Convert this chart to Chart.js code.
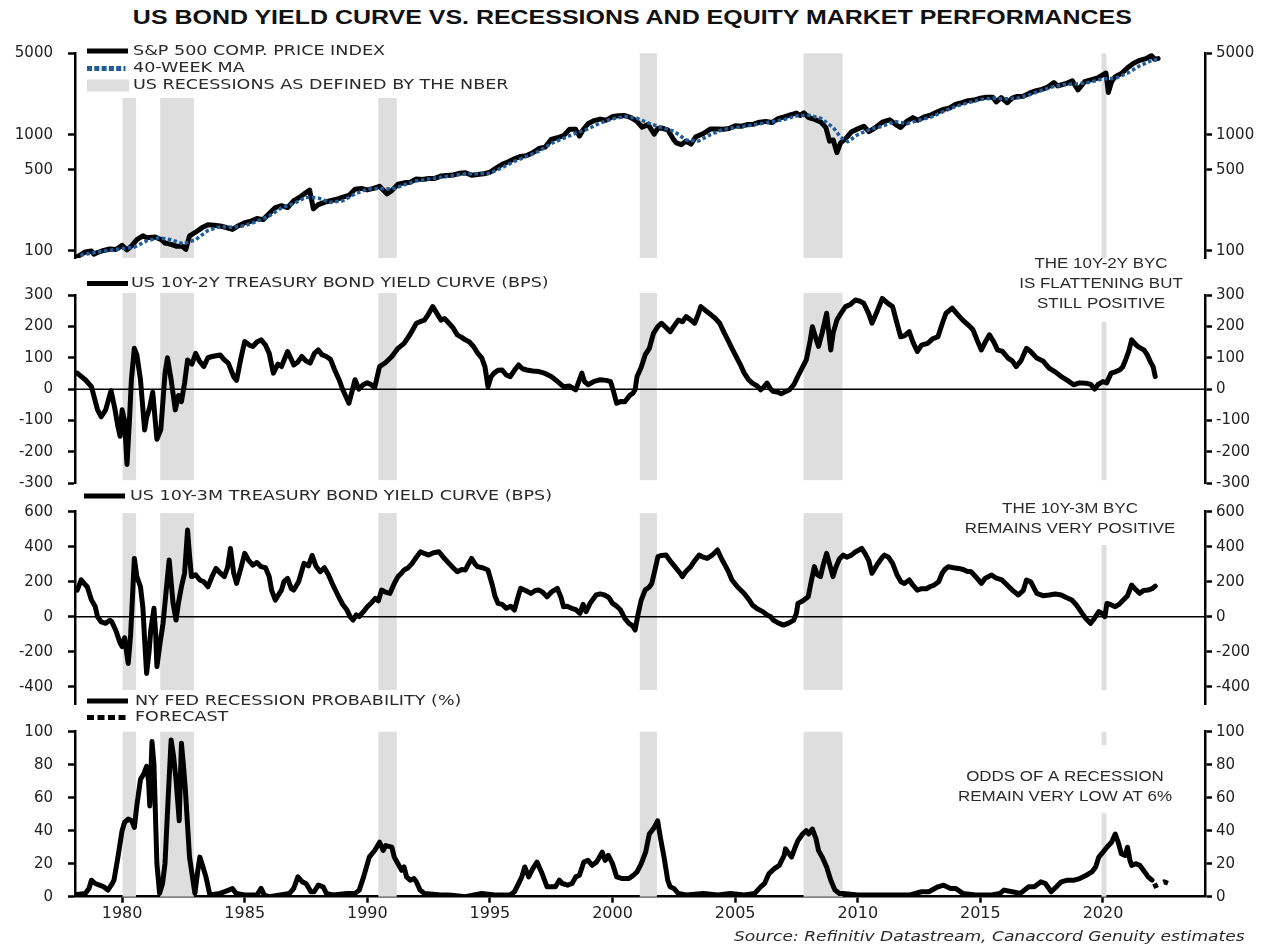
<!DOCTYPE html>
<html>
<head>
<meta charset="utf-8">
<script src="https://cdn.jsdelivr.net/npm/chart.js@4.4.0/dist/chart.umd.min.js"></script>
<style>
  body { margin: 0; background: #fff; }
  #wrap { position: relative; width: 1265px; height: 947px; background: #fff; overflow: hidden; }
  canvas { position: absolute; left: 0; top: 0; }
  #title { position: absolute; top: 6px; left: 0; width: 1265px; text-align: center;
    font: bold 19.5px "Liberation Sans", Arial, sans-serif; color: #111;
    transform: scaleX(1.28); transform-origin: 633px 0; }
  #source { position: absolute; right: 20px; top: 928px;
    font: italic 14px "DejaVu Sans", Verdana, sans-serif; color: #2a2a2a;
    transform: scaleX(1.22); transform-origin: right center; }
</style>
</head>
<body>
<div id="wrap">
  <div id="title">US BOND YIELD CURVE VS. RECESSIONS AND EQUITY MARKET PERFORMANCES</div>
  <canvas id="c1" width="1265" height="947"></canvas>
  <canvas id="c2" width="1265" height="947"></canvas>
  <canvas id="c3" width="1265" height="947"></canvas>
  <canvas id="c4" width="1265" height="947"></canvas>
  <div id="source">Source: Refinitiv Datastream, Canaccord Genuity estimates</div>
</div>
<script>
// recessions (NBER), start / end in decimal years as drawn
const recessionStarts = [1980.02, 1981.55, 1990.45, 2001.11, 2007.79, 2019.94];
const recessionEnds = [1980.57, 1982.93, 1991.2, 2001.81, 2009.38, 2020.14];

const xTicks = [1980, 1985, 1990, 1995, 2000, 2005, 2010, 2015, 2020];
const spxTicks = [100, 500, 1000, 5000];
const curve2yTicks = [-300, -200, -100, 0, 100, 200, 300];
const curve3mTicks = [-400, -200, 0, 200, 400, 600];
const probTicks = [0, 20, 40, 60, 80, 100];

// S&P 500 price index [year, level]
const spx = [[1978.17,89],[1978.35,94],[1978.5,98],[1978.75,100],[1978.85,94],[1979.0,97],[1979.25,101],[1979.5,104],[1979.75,103],[1979.85,106],[1980.0,112],[1980.2,102],[1980.4,111],[1980.6,125],[1980.85,135],[1981.0,130],[1981.35,132],[1981.6,125],[1981.75,117],[1982.0,114],[1982.2,110],[1982.45,110],[1982.6,103],[1982.75,135],[1983.0,145],[1983.25,158],[1983.5,168],[1983.75,166],[1984.0,164],[1984.25,159],[1984.5,153],[1984.75,165],[1985.0,175],[1985.25,180],[1985.5,190],[1985.75,186],[1986.0,210],[1986.25,236],[1986.5,245],[1986.75,236],[1987.0,270],[1987.25,290],[1987.5,318],[1987.65,333],[1987.8,230],[1988.0,250],[1988.25,262],[1988.5,270],[1988.75,278],[1989.0,290],[1989.25,300],[1989.5,340],[1989.75,345],[1990.0,335],[1990.25,345],[1990.5,360],[1990.8,310],[1991.0,330],[1991.25,375],[1991.5,385],[1991.75,390],[1992.0,415],[1992.25,412],[1992.5,420],[1992.75,420],[1993.0,440],[1993.25,445],[1993.5,450],[1993.75,465],[1994.0,470],[1994.25,448],[1994.5,455],[1994.75,460],[1995.0,475],[1995.25,515],[1995.5,555],[1995.75,585],[1996.0,620],[1996.25,650],[1996.5,660],[1996.75,700],[1997.0,760],[1997.25,780],[1997.5,910],[1997.75,940],[1998.0,980],[1998.25,1110],[1998.5,1110],[1998.65,970],[1998.8,1100],[1999.0,1240],[1999.25,1320],[1999.5,1360],[1999.75,1330],[2000.0,1430],[2000.25,1450],[2000.5,1460],[2000.75,1400],[2001.0,1300],[2001.2,1160],[2001.45,1220],[2001.7,1010],[2001.85,1130],[2002.0,1140],[2002.25,1100],[2002.5,900],[2002.6,850],[2002.8,820],[2003.0,880],[2003.2,830],[2003.4,960],[2003.7,1020],[2004.0,1120],[2004.25,1120],[2004.5,1110],[2004.75,1130],[2005.0,1190],[2005.25,1180],[2005.5,1220],[2005.75,1230],[2006.0,1280],[2006.25,1300],[2006.5,1270],[2006.75,1370],[2007.0,1420],[2007.25,1480],[2007.5,1530],[2007.65,1460],[2007.8,1540],[2008.0,1400],[2008.25,1350],[2008.5,1280],[2008.7,1150],[2008.85,880],[2009.0,900],[2009.15,700],[2009.3,850],[2009.5,920],[2009.75,1060],[2010.0,1120],[2010.25,1180],[2010.45,1060],[2010.7,1140],[2011.0,1280],[2011.3,1340],[2011.6,1200],[2011.75,1150],[2012.0,1300],[2012.25,1400],[2012.45,1330],[2012.75,1430],[2013.0,1480],[2013.25,1570],[2013.5,1650],[2013.75,1700],[2014.0,1830],[2014.25,1880],[2014.5,1960],[2014.75,1980],[2015.0,2060],[2015.25,2100],[2015.5,2100],[2015.65,1910],[2015.85,2080],[2016.1,1880],[2016.3,2060],[2016.5,2130],[2016.75,2140],[2017.0,2270],[2017.25,2380],[2017.5,2450],[2017.75,2560],[2018.0,2800],[2018.15,2620],[2018.5,2750],[2018.75,2900],[2018.98,2420],[2019.25,2850],[2019.5,2950],[2019.75,3050],[2020.0,3280],[2020.12,3380],[2020.22,2300],[2020.35,2850],[2020.5,3150],[2020.75,3350],[2021.0,3750],[2021.25,4100],[2021.5,4350],[2021.75,4500],[2021.98,4780],[2022.1,4450],[2022.25,4500]];

// 40-week moving average
const spxMA = [[1978.3,92],[1979.0,98],[1980.0,105],[1980.5,108],[1981.0,122],[1981.5,130],[1982.0,125],[1982.5,115],[1983.0,125],[1983.5,150],[1984.0,162],[1984.5,160],[1985.0,165],[1985.5,180],[1986.0,200],[1986.5,235],[1987.0,255],[1987.5,290],[1988.0,285],[1988.5,262],[1989.0,270],[1989.5,310],[1990.0,340],[1990.5,345],[1991.0,340],[1991.5,370],[1992.0,400],[1992.5,415],[1993.0,430],[1993.5,445],[1994.0,460],[1994.5,460],[1995.0,465],[1995.5,520],[1996.0,590],[1996.5,650],[1997.0,720],[1997.5,840],[1998.0,930],[1998.5,1030],[1999.0,1120],[1999.5,1260],[2000.0,1370],[2000.5,1430],[2001.0,1380],[2001.5,1250],[2002.0,1150],[2002.5,1070],[2003.0,900],[2003.5,880],[2004.0,1000],[2004.5,1110],[2005.0,1150],[2005.5,1190],[2006.0,1240],[2006.5,1290],[2007.0,1350],[2007.5,1450],[2008.0,1470],[2008.5,1380],[2009.0,1150],[2009.3,950],[2009.6,870],[2010.0,1000],[2010.5,1110],[2011.0,1180],[2011.5,1300],[2012.0,1240],[2012.5,1330],[2013.0,1420],[2013.5,1580],[2014.0,1750],[2014.5,1880],[2015.0,2000],[2015.5,2060],[2016.0,2030],[2016.5,2060],[2017.0,2200],[2017.5,2400],[2018.0,2600],[2018.5,2710],[2019.0,2730],[2019.5,2830],[2020.0,3020],[2020.5,3040],[2021.0,3380],[2021.5,3900],[2022.0,4350],[2022.25,4450]];

// US 10Y-2Y curve, bps
const curve2y = [[1978.17,51],[1978.5,30],[1978.75,8],[1979.0,-66],[1979.15,-88],[1979.33,-66],[1979.55,-5],[1979.7,-60],[1979.83,-119],[1979.92,-150],[1980.0,-66],[1980.1,-100],[1980.2,-240],[1980.3,-100],[1980.38,30],[1980.5,130],[1980.6,110],[1980.75,30],[1980.92,-130],[1981.0,-90],[1981.12,-60],[1981.25,-10],[1981.42,-160],[1981.58,-129],[1981.75,50],[1981.85,100],[1982.0,30],[1982.17,-66],[1982.3,-20],[1982.42,-40],[1982.55,20],[1982.67,93],[1982.85,80],[1983.0,114],[1983.15,90],[1983.33,72],[1983.5,100],[1983.67,104],[1984.0,109],[1984.15,95],[1984.33,83],[1984.55,40],[1984.67,28],[1984.85,100],[1985.0,152],[1985.2,140],[1985.33,136],[1985.5,150],[1985.67,157],[1985.85,140],[1986.0,114],[1986.17,51],[1986.35,80],[1986.5,72],[1986.75,120],[1986.9,95],[1987.0,77],[1987.15,85],[1987.33,104],[1987.5,90],[1987.67,83],[1987.85,115],[1988.0,125],[1988.15,110],[1988.33,104],[1988.5,95],[1988.67,61],[1988.85,30],[1989.0,-2],[1989.25,-45],[1989.4,0],[1989.5,30],[1989.65,0],[1989.83,14],[1990.0,20],[1990.17,14],[1990.3,5],[1990.5,72],[1990.75,85],[1991.0,104],[1991.25,130],[1991.5,146],[1991.75,175],[1992.0,210],[1992.15,215],[1992.33,220],[1992.5,240],[1992.67,263],[1992.85,240],[1993.0,220],[1993.15,225],[1993.33,210],[1993.5,195],[1993.67,173],[1993.85,165],[1994.0,157],[1994.17,150],[1994.33,136],[1994.5,115],[1994.67,99],[1994.8,70],[1994.92,8],[1995.05,40],[1995.17,51],[1995.33,60],[1995.5,61],[1995.67,45],[1995.83,40],[1996.0,60],[1996.17,77],[1996.33,65],[1996.5,61],[1996.75,58],[1997.0,56],[1997.25,50],[1997.5,40],[1997.75,25],[1998.0,8],[1998.25,10],[1998.5,-2],[1998.65,30],[1998.75,51],[1998.85,25],[1999.0,14],[1999.25,25],[1999.5,30],[1999.75,28],[1999.92,24],[2000.05,-10],[2000.17,-45],[2000.35,-39],[2000.5,-40],[2000.7,-20],[2000.83,-13],[2000.92,-2],[2001.0,40],[2001.17,70],[2001.33,109],[2001.5,130],[2001.67,178],[2001.85,200],[2002.0,210],[2002.2,195],[2002.35,183],[2002.5,200],[2002.68,220],[2002.85,215],[2003.0,231],[2003.2,220],[2003.35,210],[2003.5,240],[2003.6,263],[2003.8,250],[2004.03,236],[2004.2,225],[2004.37,210],[2004.55,180],[2004.7,157],[2004.9,125],[2005.04,104],[2005.2,80],[2005.37,51],[2005.55,30],[2005.7,19],[2005.9,10],[2006.04,-2],[2006.15,5],[2006.3,19],[2006.45,0],[2006.55,-7],[2006.75,-10],[2006.88,-15],[2007.05,-8],[2007.22,-2],[2007.4,15],[2007.55,40],[2007.75,70],[2007.9,93],[2008.05,150],[2008.15,199],[2008.3,160],[2008.4,136],[2008.55,180],[2008.73,242],[2008.82,180],[2008.9,125],[2009.0,180],[2009.15,220],[2009.3,240],[2009.5,263],[2009.7,270],[2009.9,284],[2010.1,280],[2010.25,273],[2010.45,240],[2010.58,210],[2010.8,250],[2011.0,289],[2011.2,275],[2011.42,263],[2011.6,210],[2011.75,167],[2011.9,170],[2012.1,183],[2012.25,150],[2012.43,120],[2012.6,140],[2012.85,146],[2013.05,160],[2013.27,167],[2013.45,210],[2013.6,242],[2013.85,258],[2014.05,240],[2014.28,220],[2014.5,205],[2014.7,189],[2014.9,150],[2015.04,125],[2015.2,150],[2015.37,173],[2015.55,150],[2015.7,125],[2015.9,120],[2016.13,99],[2016.3,90],[2016.46,72],[2016.65,90],[2016.88,130],[2017.05,120],[2017.3,99],[2017.55,90],[2017.8,67],[2018.05,55],[2018.3,40],[2018.55,28],[2018.8,14],[2019.05,20],[2019.3,19],[2019.5,15],[2019.66,0],[2019.8,15],[2020.0,24],[2020.15,20],[2020.33,51],[2020.5,55],[2020.67,61],[2020.8,70],[2020.92,93],[2021.05,120],[2021.17,157],[2021.3,145],[2021.42,136],[2021.55,130],[2021.67,125],[2021.8,110],[2021.93,88],[2022.05,70],[2022.13,40]];

// US 10Y-3M curve, bps
const curve3m = [[1978.17,152],[1978.33,210],[1978.45,190],[1978.58,171],[1978.75,95],[1978.9,60],[1979.0,0],[1979.15,-30],[1979.33,-38],[1979.5,-20],[1979.58,-29],[1979.75,-80],[1979.83,-114],[1979.92,-150],[1980.0,-171],[1980.1,-120],[1980.25,-267],[1980.35,-100],[1980.42,100],[1980.5,333],[1980.6,230],[1980.75,171],[1980.85,50],[1980.92,-133],[1981.0,-324],[1981.1,-200],[1981.17,-76],[1981.3,48],[1981.37,-100],[1981.42,-286],[1981.55,-150],[1981.67,-38],[1981.8,150],[1981.92,324],[1982.0,200],[1982.08,76],[1982.2,-19],[1982.3,80],[1982.42,171],[1982.55,250],[1982.67,495],[1982.75,350],[1982.83,229],[1983.0,240],[1983.17,210],[1983.33,200],[1983.5,171],[1983.67,230],[1983.83,276],[1984.0,250],[1984.17,229],[1984.3,280],[1984.42,390],[1984.55,250],[1984.67,190],[1984.85,280],[1985.0,362],[1985.17,320],[1985.33,295],[1985.5,310],[1985.67,286],[1985.85,280],[1986.0,229],[1986.1,150],[1986.25,95],[1986.4,130],[1986.5,152],[1986.6,200],[1986.75,219],[1986.9,160],[1987.0,152],[1987.2,200],[1987.42,305],[1987.6,290],[1987.75,350],[1987.9,290],[1988.08,257],[1988.25,280],[1988.42,238],[1988.6,180],[1988.83,114],[1989.0,70],[1989.17,38],[1989.3,0],[1989.42,-19],[1989.55,10],[1989.67,0],[1989.85,30],[1990.0,57],[1990.17,80],[1990.33,105],[1990.45,90],[1990.58,152],[1990.75,140],[1990.92,133],[1991.1,190],[1991.25,229],[1991.4,250],[1991.5,267],[1991.67,280],[1991.83,305],[1992.0,340],[1992.17,371],[1992.35,360],[1992.5,352],[1992.7,365],[1992.92,371],[1993.1,340],[1993.33,305],[1993.5,280],[1993.67,257],[1993.85,270],[1994.0,267],[1994.12,300],[1994.25,333],[1994.4,300],[1994.5,286],[1994.7,280],[1994.92,267],[1995.1,180],[1995.2,120],[1995.33,76],[1995.5,70],[1995.67,48],[1995.85,60],[1996.0,38],[1996.12,100],[1996.25,162],[1996.45,150],[1996.67,133],[1996.85,150],[1997.0,152],[1997.15,140],[1997.33,114],[1997.5,140],[1997.75,162],[1997.9,110],[1998.0,57],[1998.15,60],[1998.33,48],[1998.5,40],[1998.67,19],[1998.8,70],[1998.92,29],[1999.1,80],[1999.33,124],[1999.5,130],[1999.67,124],[1999.85,110],[2000.0,76],[2000.17,60],[2000.33,38],[2000.5,-10],[2000.67,-38],[2000.8,-50],[2000.92,-76],[2001.05,20],[2001.17,95],[2001.33,152],[2001.5,170],[2001.6,190],[2001.75,280],[2001.85,343],[2002.0,350],[2002.18,352],[2002.4,310],[2002.6,276],[2002.75,250],[2002.85,229],[2003.0,260],[2003.19,286],[2003.35,320],[2003.53,352],[2003.7,340],[2003.86,333],[2004.05,350],[2004.28,381],[2004.45,330],[2004.62,286],[2004.75,250],[2004.87,210],[2005.1,170],[2005.37,133],[2005.55,100],[2005.7,67],[2005.9,45],[2006.13,29],[2006.3,10],[2006.45,0],[2006.55,-19],[2006.75,-35],[2006.97,-48],[2007.2,-35],[2007.39,-19],[2007.5,20],[2007.56,76],[2007.75,90],[2007.98,114],[2008.1,200],[2008.23,286],[2008.35,240],[2008.48,229],[2008.6,300],[2008.73,362],[2008.85,300],[2008.99,229],[2009.1,280],[2009.25,330],[2009.41,352],[2009.55,340],[2009.74,352],[2009.9,370],[2010.16,390],[2010.3,360],[2010.45,320],[2010.58,248],[2010.8,300],[2011.0,340],[2011.09,352],[2011.25,340],[2011.42,305],[2011.6,240],[2011.76,200],[2011.9,190],[2012.1,210],[2012.25,180],[2012.43,152],[2012.6,160],[2012.8,160],[2012.94,171],[2013.1,180],[2013.3,200],[2013.44,248],[2013.55,270],[2013.69,286],[2013.9,280],[2014.11,276],[2014.3,270],[2014.45,260],[2014.62,257],[2014.8,230],[2015.04,190],[2015.2,220],[2015.46,238],[2015.65,220],[2015.88,210],[2016.1,180],[2016.3,152],[2016.55,124],[2016.75,150],[2016.88,210],[2017.05,200],[2017.3,133],[2017.55,120],[2017.8,124],[2018.05,130],[2018.3,124],[2018.5,110],[2018.73,95],[2018.9,70],[2019.15,19],[2019.3,-10],[2019.49,-38],[2019.65,-10],[2019.83,29],[2019.95,20],[2020.08,0],[2020.16,76],[2020.3,70],[2020.5,57],[2020.65,70],[2020.83,95],[2021.0,120],[2021.17,181],[2021.3,160],[2021.5,133],[2021.65,150],[2021.84,152],[2022.0,160],[2022.13,175]];

// NY Fed recession probability, %
const recProb = [[1978.0,1],[1978.5,2],[1978.65,5],[1978.75,10],[1978.9,8],[1979.08,7],[1979.25,6],[1979.42,4],[1979.6,8],[1979.67,10],[1979.83,24],[1980.0,40],[1980.1,45],[1980.25,47],[1980.4,46],[1980.5,42],[1980.6,55],[1980.75,71],[1980.9,75],[1981.0,79],[1981.08,70],[1981.13,55],[1981.22,94],[1981.3,80],[1981.42,20],[1981.53,2],[1981.65,8],[1981.75,20],[1981.88,60],[1982.0,95],[1982.1,85],[1982.2,71],[1982.33,46],[1982.42,93],[1982.5,80],[1982.58,65],[1982.75,24],[1982.97,2],[1983.08,15],[1983.17,24],[1983.3,18],[1983.42,12],[1983.58,1],[1984.0,2],[1984.35,4],[1984.5,5],[1984.65,2],[1985.0,1],[1985.5,1],[1985.67,5],[1985.8,1],[1986.0,0],[1986.83,2],[1987.0,5],[1987.17,12],[1987.35,9],[1987.5,8],[1987.7,3],[1987.83,3],[1988.0,7],[1988.2,6],[1988.33,2],[1988.6,1],[1989.17,2],[1989.5,2],[1989.67,4],[1989.85,12],[1990.08,24],[1990.3,28],[1990.5,33],[1990.65,28],[1990.75,31],[1991.0,30],[1991.1,24],[1991.25,20],[1991.4,16],[1991.5,18],[1991.6,12],[1991.75,10],[1991.9,11],[1992.0,9],[1992.15,4],[1992.33,2],[1993.0,1],[1993.33,1],[1994.0,0],[1994.67,2],[1995.2,1],[1995.83,1],[1996.0,3],[1996.17,8],[1996.3,12],[1996.42,18],[1996.58,12],[1996.75,17],[1996.92,21],[1997.1,15],[1997.33,6],[1997.67,6],[1997.83,10],[1997.95,8],[1998.17,7],[1998.35,8],[1998.5,12],[1998.65,13],[1998.83,21],[1999.0,22],[1999.17,19],[1999.35,21],[1999.58,27],[1999.7,22],[1999.83,25],[2000.0,20],[2000.17,12],[2000.4,11],[2000.67,11],[2000.85,13],[2001.0,15],[2001.17,20],[2001.35,27],[2001.5,38],[2001.7,42],[2001.84,46],[2001.95,36],[2002.1,24],[2002.25,10],[2002.35,6],[2002.5,5],[2002.68,2],[2003.0,1],[2003.7,2],[2004.3,1],[2004.8,2],[2005.37,1],[2005.8,2],[2006.04,6],[2006.2,8],[2006.38,14],[2006.6,17],[2006.8,19],[2007.0,25],[2007.05,29],[2007.3,24],[2007.45,30],[2007.56,34],[2007.75,38],[2007.9,40],[2008.0,38],[2008.15,41],[2008.3,35],[2008.4,28],[2008.55,24],[2008.73,18],[2008.9,10],[2009.07,4],[2009.25,2],[2009.41,2],[2010.0,1],[2011.0,1],[2012.1,1],[2012.6,3],[2012.9,3],[2013.27,6],[2013.5,7],[2013.78,5],[2014.0,5],[2014.28,2],[2014.8,1],[2015.46,1],[2015.8,2],[2015.96,4],[2016.3,3],[2016.63,2],[2016.97,6],[2017.2,6],[2017.47,9],[2017.65,8],[2017.89,3],[2018.1,6],[2018.3,9],[2018.55,10],[2018.82,10],[2019.05,11],[2019.32,13],[2019.55,15],[2019.7,18],[2019.83,24],[2020.0,27],[2020.16,30],[2020.35,33],[2020.5,38],[2020.62,33],[2020.75,26],[2020.9,25],[2021.0,30],[2021.1,22],[2021.17,19],[2021.35,20],[2021.5,19],[2021.7,15],[2021.84,12],[2022.0,10]];
const recProbForecast = [[2022.05,6],[2022.5,9],[2022.85,7]];

const H = 947;
const yTickFont = { family: "DejaVu Sans", size: 15 };
const xTickFont = { family: "DejaVu Sans", size: 16 };
const TEXT_STRETCH = 1.21; // the source picture is stretched sideways

function yAxis(pos, p) {
  return {
    type: p.type || "linear",
    position: pos,
    min: p.min,
    max: p.max,
    afterBuildTicks: (s) => { s.ticks = p.ticks.map((v) => ({ value: v })); },
    afterFit: (s) => { s.width = pos === "left" ? 75 : 60; },
    border: { display: true, color: "#000", width: 2.5 },
    grid: { display: true, drawOnChartArea: false, drawTicks: true, tickLength: 7, tickWidth: 2.5, tickColor: "#000" },
    ticks: { color: "#222", font: yTickFont, padding: pos === "left" ? 15 : 4, callback: (v) => String(v) },
  };
}

// recession shading + zero line, drawn under the series
function shadingPlugin(p) {
  return {
    id: "shading",
    beforeDatasetsDraw(chart) {
      const { ctx, chartArea, scales } = chart;
      const top = p.barTop != null ? scales.y.getPixelForValue(p.barTop) : chartArea.top;
      const bottom = p.barBottom != null ? scales.y.getPixelForValue(p.barBottom) : chartArea.bottom;
      ctx.save();
      ctx.fillStyle = "#dedede";
      recessionStarts.forEach((s, i) => {
        const x0 = scales.x.getPixelForValue(s);
        const x1 = scales.x.getPixelForValue(recessionEnds[i]);
        ctx.fillRect(x0, top, x1 - x0, bottom - top);
      });
      if (p.zeroLine) {
        const y0 = scales.y.getPixelForValue(0);
        ctx.strokeStyle = "#000";
        ctx.lineWidth = 1.5;
        ctx.beginPath();
        ctx.moveTo(chartArea.left, y0);
        ctx.lineTo(chartArea.right, y0);
        ctx.stroke();
      }
      ctx.restore();
    },
  };
}

function wideText(ctx, text, x, y, align) {
  ctx.save();
  ctx.translate(x, y);
  ctx.scale(TEXT_STRETCH, 1);
  ctx.textAlign = align;
  ctx.fillText(text, 0, 0);
  ctx.restore();
}

// legend rows and annotation text boxes
function overlayPlugin(p) {
  return {
    id: "overlay",
    afterDraw(chart) {
      const ctx = chart.ctx;
      ctx.save();
      if (p.legendBox) {
        ctx.fillStyle = "#fff";
        ctx.fillRect(...p.legendBox);
      }
      ctx.font = '14.5px "DejaVu Sans"';
      ctx.textBaseline = "middle";
      p.legend.forEach((row) => {
        const x = row.x || 87, y = row.y;
        if (row.kind === "line") {
          ctx.fillStyle = "#000";
          ctx.fillRect(x, y - 2.5, 41, 5);
        } else if (row.kind === "dots") {
          ctx.fillStyle = "#1f5c9c";
          for (let i = 0; i < 6; i++) ctx.fillRect(x + i * 7.3, y - 2.5, i === 5 ? 2 : 5, 5);
        } else if (row.kind === "square") {
          ctx.fillStyle = "#000";
          for (let i = 0; i < 4; i++) ctx.fillRect(x + i * 10.5, y - 2.5, 7, 5);
        } else {
          ctx.fillStyle = "#dedede";
          ctx.fillRect(x, y - 6, 42, 12);
        }
        ctx.fillStyle = "#2a2a2a";
        wideText(ctx, row.text, row.tx || 133, y, "left");
      });
      if (p.note) {
        const n = p.note;
        ctx.font = '14px "Liberation Sans"';
        const w = Math.max(...n.lines.map((l) => ctx.measureText(l).width)) * TEXT_STRETCH;
        ctx.fillStyle = "#fff";
        ctx.fillRect(n.cx - w / 2 - 6, n.boxTop, w + 12, n.boxBottom - n.boxTop);
        ctx.fillStyle = "#2a2a2a";
        n.lines.forEach((l, i) => wideText(ctx, l, n.cx, n.ys[i], "center"));
      }
      ctx.restore();
    },
  };
}

function makePanel(p) {
  const x = {
    type: "linear",
    min: 1978.08,
    max: 2024.16,
    display: !!p.showX,
    afterBuildTicks: (s) => { s.ticks = xTicks.map((v) => ({ value: v })); },
    afterFit: (s) => { s.height = p.showX ? 30 : 0; },
    border: { display: true, color: "#000", width: 2.5 },
    grid: { display: true, drawOnChartArea: false, drawTicks: true, tickLength: 6, tickWidth: 2.5, tickColor: "#000" },
    ticks: { color: "#222", font: xTickFont, padding: 2, maxRotation: 0, autoSkip: false, callback: (v) => String(v) },
  };
  return new Chart(document.getElementById(p.id), {
    type: "line",
    data: { datasets: p.datasets },
    options: {
      responsive: false,
      animation: false,
      devicePixelRatio: 1,
      layout: { padding: { top: p.top, bottom: H - p.bottom - (p.showX ? 30 : 0), left: 0, right: 0 } },
      plugins: { legend: { display: false }, tooltip: { enabled: false } },
      elements: { point: { radius: 0 }, line: { tension: 0, borderJoinStyle: "round", borderCapStyle: "round" } },
      scales: { x, y: yAxis("left", p), y2: yAxis("right", p) },
    },
    plugins: [shadingPlugin(p), overlayPlugin(p)],
  });
}

function solid(data) {
  return { data, borderColor: "#000", borderWidth: 5, order: 1 };
}

makePanel({
  id: "c1", top: 53.3, bottom: 258, type: "logarithmic", min: 87, max: 5000, ticks: spxTicks,
  datasets: [
    { data: spxMA, borderColor: "#1f5c9c", borderWidth: 3.5, borderDash: [3.5, 2.5], borderCapStyle: "butt", order: 0 },
    solid(spx),
  ],
  legendBox: [82, 38, 440, 60],
  legend: [
    { kind: "line", y: 51, text: "S&P 500 COMP. PRICE INDEX" },
    { kind: "dots", y: 68.5, text: "40-WEEK MA" },
    { kind: "rect", y: 85.5, text: "US RECESSIONS AS DEFINED BY THE NBER" },
  ],
});

makePanel({
  id: "c2", top: 295, bottom: 483.3, min: -300, max: 300, ticks: curve2yTicks,
  barTop: 306, barBottom: -290, zeroLine: true,
  datasets: [solid(curve2y)],
  legend: [{ kind: "line", x: 87, y: 283.5, tx: 131, text: "US 10Y-2Y TREASURY BOND YIELD CURVE (BPS)" }],
  note: { cx: 1101, lines: ["THE 10Y-2Y BYC", "IS FLATTENING BUT", "STILL POSITIVE"], ys: [264, 284.5, 304.5], boxTop: 259, boxBottom: 322 },
});

makePanel({
  id: "c3", top: 511.7, bottom: 704.2, min: -500, max: 600, ticks: curve3mTicks,
  barTop: 592, barBottom: -419, zeroLine: true,
  datasets: [solid(curve3m)],
  legend: [{ kind: "line", x: 84, y: 496, tx: 130, text: "US 10Y-3M TREASURY BOND YIELD CURVE (BPS)" }],
  note: { cx: 1070, lines: ["THE 10Y-3M BYC", "REMAINS VERY POSITIVE"], ys: [509.5, 529.5], boxTop: 497, boxBottom: 545 },
});

makePanel({
  id: "c4", top: 731.7, bottom: 896.7, min: 0, max: 100, ticks: probTicks, showX: true,
  datasets: [
    solid(recProb),
    { data: recProbForecast, borderColor: "#000", borderWidth: 5, borderDash: [5, 6], borderCapStyle: "butt", order: 1 },
  ],
  legend: [
    { kind: "line", y: 701, tx: 135, text: "NY FED RECESSION PROBABILITY (%)" },
    { kind: "square", y: 717.5, tx: 135, text: "FORECAST" },
  ],
  note: { cx: 1065, lines: ["ODDS OF A RECESSION", "REMAIN VERY LOW AT 6%"], ys: [777, 797], boxTop: 745, boxBottom: 813 },
});
</script>
</body>
</html>
